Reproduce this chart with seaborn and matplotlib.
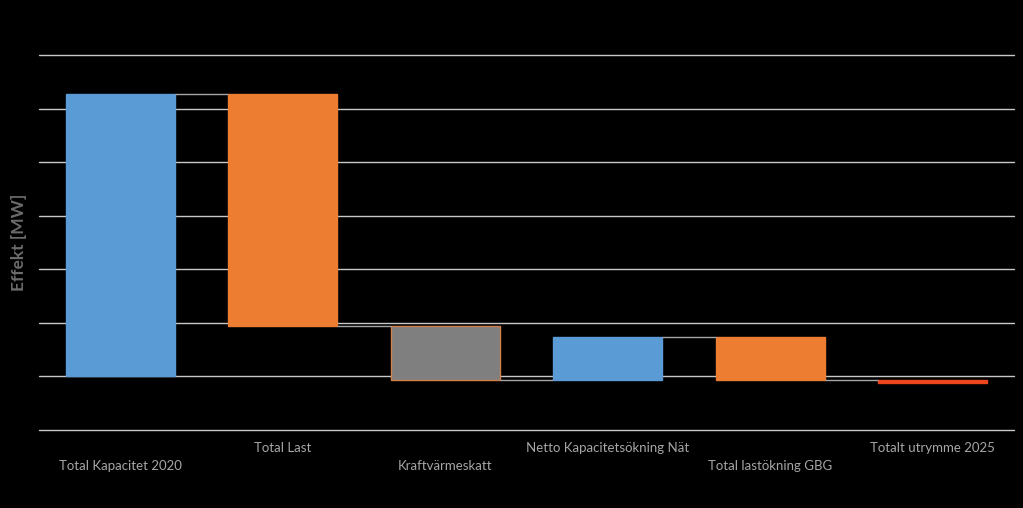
import numpy as np
import pandas as pd
import matplotlib
matplotlib.use("Agg")
import matplotlib.pyplot as plt
import seaborn as sns

categories = ["Total Kapacitet 2020", "Total Last", "Kraftvärmeskatt",
              "Netto Kapacitetsökning Nät", "Total lastökning GBG", "Totalt utrymme 2025"]
deltas = [2632, -2165, -498, 395, -395, -28]
yticks = [-500, 0, 500, 1000, 1500, 2000, 2500, 3000]

bar_colors = ["#5b9bd5", "#ed7d31", "#7f7f7f", "#5b9bd5", "#ed7d31", "#f0461e"]
edge_colors = ["#5b9bd5", "#ed7d31", "#d0804a", "#5b9bd5", "#ed7d31", "#f0461e"]

ends = np.cumsum(deltas)
starts = np.concatenate([[0], ends[:-1]])
df = pd.DataFrame({"cat": categories, "delta": deltas, "start": starts})

sns.set_theme(style="white")
plt.rcParams["font.family"] = ["Lato", "DejaVu Sans"]

fig = plt.figure(figsize=(10.23, 5.08), dpi=100, facecolor="black")
ax = fig.add_axes([39/1023, (508-430)/508, 975/1023, 375/508])
ax.set_facecolor("black")

width = 0.67
sns.barplot(data=df, x="cat", y="delta", order=categories, bottom=df["start"].values,
            width=width, ax=ax, color="#5b9bd5", linewidth=1.0, saturation=1)
for p, fc, ec in zip(ax.patches, bar_colors, edge_colors):
    p.set_facecolor(fc)
    p.set_edgecolor(ec)

# connectors
for i in range(len(categories) - 1):
    ax.hlines(ends[i], i + width/2, i + 1 - width/2, color="#a6a6a6", linewidth=1.0, zorder=3)

ax.set_xlim(-0.5, len(categories) - 0.5)
ax.set_ylim(yticks[0], yticks[-1])
ax.set_yticks(yticks)
ax.set_yticklabels([])
ax.yaxis.grid(True, color="#c8c8c8", linewidth=1.0)
for gl in ax.get_ygridlines():
    gl.set_clip_on(False)
ax.set_axisbelow(True)
for s in ax.spines.values():
    s.set_visible(False)
ax.tick_params(axis="both", length=0)

labels = [("\n" + c) if i % 2 == 0 else c for i, c in enumerate(categories)]
ax.set_xticks(range(len(categories)))
ax.set_xticklabels(labels, color="#a6a6a6", fontsize=9.5, linespacing=1.55)
ax.tick_params(axis="x", pad=9)
ax.set_xlabel("")

ax.set_ylabel("Effekt [MW]", color="#6b6b6b", fontsize=12.5, fontweight="bold")
ax.yaxis.set_label_coords(-12/975, 0.5)

fig.savefig("out.png", dpi=100, facecolor="black")
